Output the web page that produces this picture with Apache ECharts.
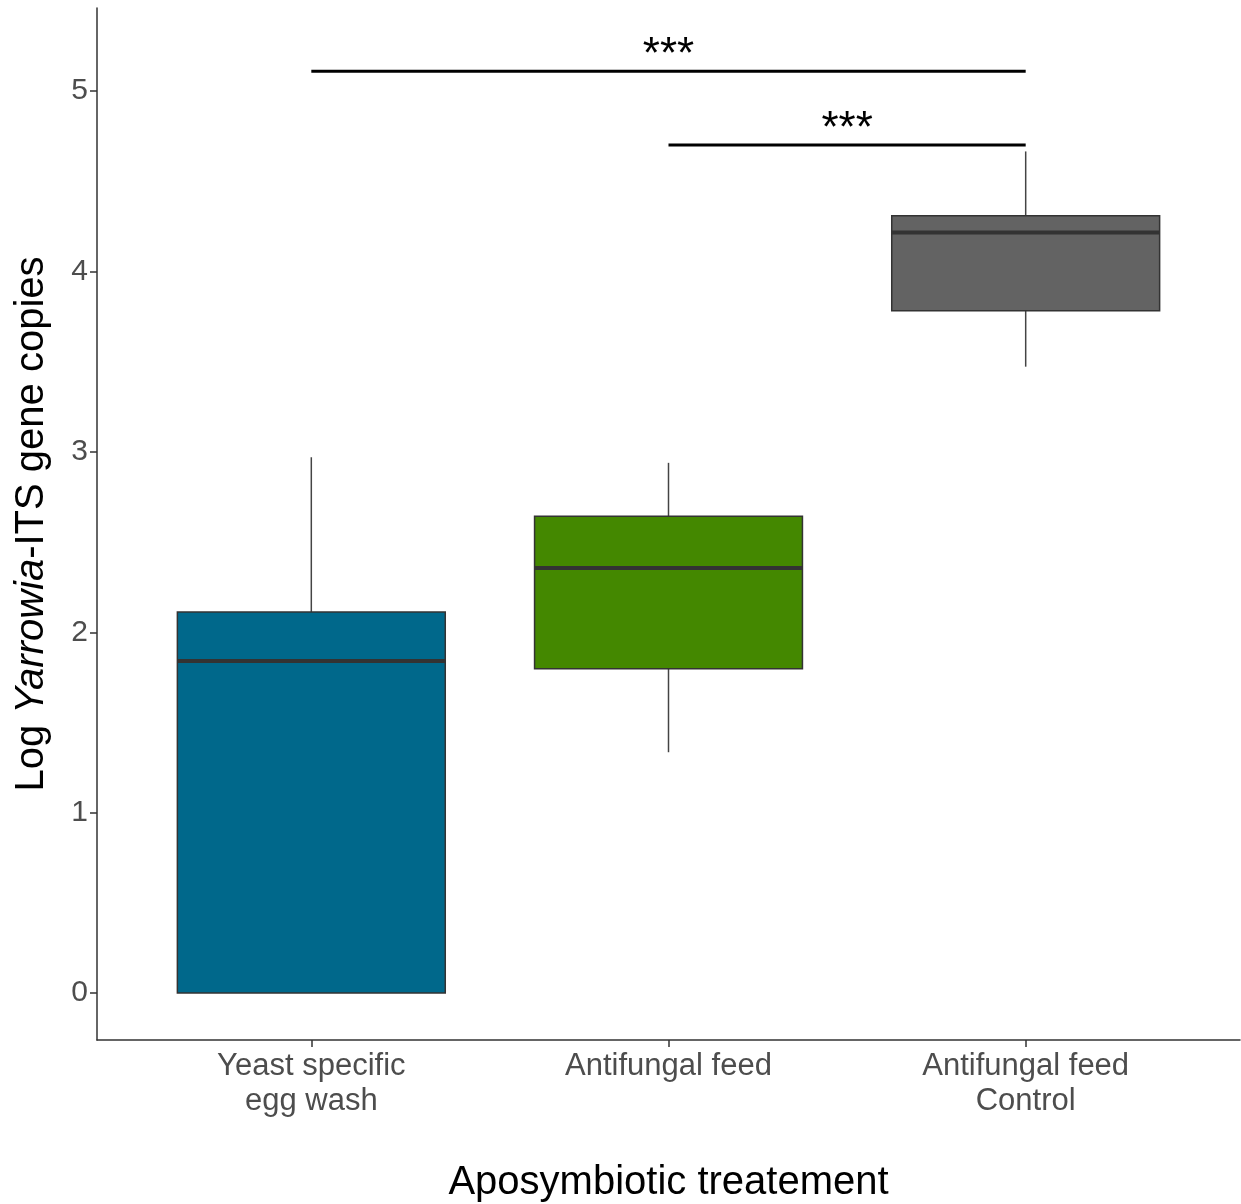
<!DOCTYPE html>
<html>
<head>
<meta charset="utf-8">
<script src="https://cdn.jsdelivr.net/npm/echarts@6/dist/echarts.min.js"></script>
<style>
  html, body { margin: 0; padding: 0; background: #fff; }
  #chart { width: 1241px; height: 1204px; }
</style>
</head>
<body>
<div id="chart"></div>
<script>
// groups on the x axis (positions 1, 2, 3)
const categories = ['Yeast specific\negg wash', 'Antifungal feed', 'Antifungal feed\nControl'];
// box statistics
const lowerWhisker = [0, 1.335, 3.472];
const q1 = [0, 1.798, 3.782];
const median = [1.84, 2.356, 4.215];
const q3 = [2.112, 2.643, 4.308];
const upperWhisker = [2.97, 2.939, 4.665];
const boxColors = ['#00688b', '#448800', '#636363'];

const yTicks = [0, 1, 2, 3, 4, 5];
const xTicks = [1, 2, 3];

// significance brackets
const sigFrom = [1, 2];
const sigTo = [3, 3];
const sigY = [5.11, 4.70];
const sigLabel = ['***', '***'];

const BOX_W = 0.75;

const boxData = categories.map((c, i) => [i + 1, lowerWhisker[i], q1[i], median[i], q3[i], upperWhisker[i]]);
const sigData = sigFrom.map((f, i) => [f, sigTo[i], sigY[i], sigLabel[i]]);

const chart = echarts.init(document.getElementById('chart'));

chart.setOption({
  backgroundColor: '#fff',
  animation: false,
  grid: { left: 97, right: 1, top: 8, bottom: 164, containLabel: false, outerBoundsMode: 'none' },
  xAxis: {
    type: 'value',
    min: 0.4,
    max: 3.6,
    splitLine: { show: false },
    axisLine: { show: true, onZero: false, lineStyle: { color: '#333', width: 1.5 } },
    axisTick: { show: true, customValues: xTicks, length: 7, lineStyle: { color: '#333', width: 1.5 } },
    axisLabel: {
      customValues: xTicks,
      formatter: v => categories[Math.round(v) - 1],
      fontFamily: 'Liberation Sans, Arial, sans-serif',
      fontSize: 31,
      lineHeight: 35,
      color: '#4d4d4d',
      margin: 9
    },
    name: 'Aposymbiotic treatement',
    nameLocation: 'middle',
    nameGap: 123,
    nameTextStyle: { fontFamily: 'Liberation Sans, Arial, sans-serif', fontSize: 40, color: '#000' }
  },
  yAxis: {
    type: 'value',
    min: -0.26,
    max: 5.46,
    splitLine: { show: false },
    axisLine: { show: true, onZero: false, lineStyle: { color: '#333', width: 1.5 } },
    axisTick: { show: true, customValues: yTicks, length: 7, lineStyle: { color: '#333', width: 1.5 } },
    axisLabel: {
      customValues: yTicks,
      fontFamily: 'Liberation Sans, Arial, sans-serif',
      fontSize: 30,
      color: '#4d4d4d',
      margin: 9
    },
    name: '{n|Log }{i|Yarrowia}{n|-ITS gene copies}',
    nameLocation: 'middle',
    nameGap: 45,
    nameTextStyle: {
      rich: {
        n: { fontFamily: 'Liberation Sans, Arial, sans-serif', fontSize: 40, color: '#000' },
        i: { fontFamily: 'Liberation Sans, Arial, sans-serif', fontSize: 40, color: '#000', fontStyle: 'italic' }
      }
    }
  },
  series: [
    {
      type: 'custom',
      data: boxData,
      encode: { x: 0, y: [1, 2, 3, 4, 5] },
      renderItem: (params, api) => {
        const x = api.value(0);
        const idx = params.dataIndex;
        const lw = api.coord([x, api.value(1)]);
        const b1 = api.coord([x - BOX_W / 2, api.value(2)]);
        const b3 = api.coord([x + BOX_W / 2, api.value(4)]);
        const md1 = api.coord([x - BOX_W / 2, api.value(3)]);
        const md2 = api.coord([x + BOX_W / 2, api.value(3)]);
        const uw = api.coord([x, api.value(5)]);
        const whisker = { stroke: '#444', lineWidth: 1.5 };
        return {
          type: 'group',
          children: [
            { type: 'line', shape: { x1: uw[0], y1: uw[1], x2: uw[0], y2: b3[1] }, style: whisker },
            { type: 'line', shape: { x1: lw[0], y1: lw[1], x2: lw[0], y2: b1[1] }, style: whisker },
            {
              type: 'rect',
              shape: { x: b1[0], y: b3[1], width: b3[0] - b1[0], height: b1[1] - b3[1] },
              style: { fill: boxColors[idx], stroke: '#333', lineWidth: 1.5 }
            },
            { type: 'line', shape: { x1: md1[0], y1: md1[1], x2: md2[0], y2: md2[1] }, style: { stroke: '#333', lineWidth: 4 } }
          ]
        };
      }
    },
    {
      type: 'custom',
      data: sigData,
      encode: { x: [0, 1], y: 2 },
      renderItem: (params, api) => {
        const p1 = api.coord([api.value(0), api.value(2)]);
        const p2 = api.coord([api.value(1), api.value(2)]);
        return {
          type: 'group',
          children: [
            { type: 'line', shape: { x1: p1[0], y1: p1[1], x2: p2[0], y2: p2[1] }, style: { stroke: '#000', lineWidth: 3 } },
            {
              type: 'text',
              style: {
                x: (p1[0] + p2[0]) / 2,
                y: p1[1] - 15,
                text: sigLabel[params.dataIndex],
                fontFamily: 'Liberation Sans, Arial, sans-serif',
                fontSize: 44,
                fill: '#000',
                align: 'center',
                verticalAlign: 'middle'
              }
            }
          ]
        };
      }
    }
  ]
});
</script>
</body>
</html>
